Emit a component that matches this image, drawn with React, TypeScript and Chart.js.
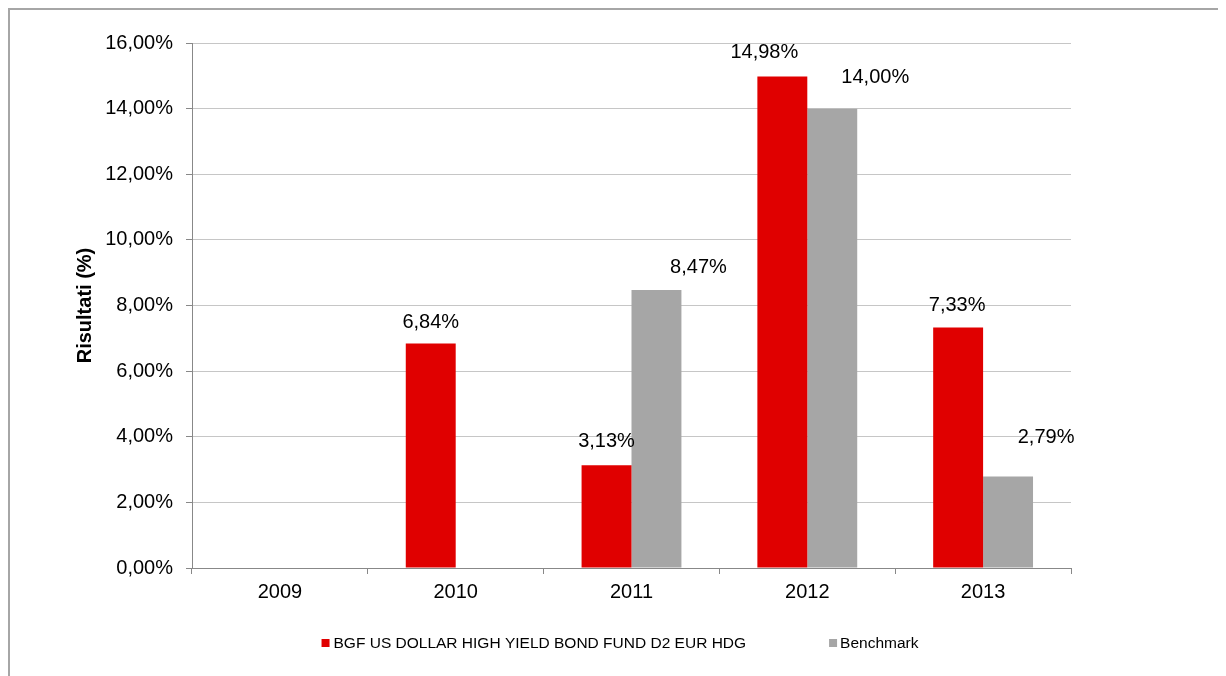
import React, { useEffect, useRef } from "react";
import { Chart, registerables } from "chart.js";

Chart.register(...registerables);

const categories = ["2009", "2010", "2011", "2012", "2013"];
const fundLabel = "BGF US DOLLAR HIGH YIELD BOND FUND D2 EUR HDG";
const benchLabel = "Benchmark";
const fundValues: (number | null)[] = [null, 6.84, 3.13, 14.98, 7.33];
const benchValues: (number | null)[] = [null, null, 8.47, 14.0, 2.79];
const yTicks = [0, 2, 4, 6, 8, 10, 12, 14, 16];

const FONT = "'Liberation Sans', Arial, sans-serif";
const fmt = (v: number) => v.toFixed(2).replace(".", ",") + "%";

// label offsets (dx, dy) per dataset, per category
const labelOffsets = [
  [[0, 0], [0, 21], [0, 24], [-18, 24], [-1, 22]],
  [[0, 0], [0, 0], [42, 23], [43, 31], [38, 39]],
];

const dataLabelPlugin = {
  id: "dataLabels",
  afterDatasetsDraw(chart: any) {
    const ctx = chart.ctx;
    ctx.save();
    ctx.font = `20px ${FONT}`;
    ctx.fillStyle = "#000";
    ctx.textAlign = "center";
    ctx.textBaseline = "middle";
    chart.data.datasets.forEach((ds: any, di: number) => {
      const meta = chart.getDatasetMeta(di);
      meta.data.forEach((el: any, i: number) => {
        const v = ds.data[i];
        if (v == null) return;
        const [dx, dy] = labelOffsets[di][i];
        ctx.fillText(fmt(v), el.x + dx, el.y - dy);
      });
    });
    ctx.restore();
  },
};

const legendPlugin = {
  id: "customLegend",
  afterDraw(chart: any) {
    const ctx = chart.ctx;
    ctx.save();
    ctx.font = `15.5px ${FONT}`;
    ctx.textBaseline = "middle";
    ctx.textAlign = "left";
    const ds = chart.data.datasets;
    const box = 8;
    const gapText = [4, 3];
    const gapItems = 83;
    const widths = ds.map((d: any) => ctx.measureText(d.label).width);
    const total = box + gapText[0] + widths[0] + gapItems + box + gapText[1] + widths[1];
    let x = chart.width / 2 + 2 - total / 2;
    const y = 633;
    ds.forEach((d: any, i: number) => {
      ctx.fillStyle = d.backgroundColor;
      ctx.fillRect(x, y - box / 2, box, box);
      x += box + gapText[i];
      ctx.fillStyle = "#000";
      ctx.fillText(d.label, x, y + 1);
      x += widths[i] + gapItems;
    });
    ctx.restore();
  },
};

export default function App() {
  const ref = useRef<HTMLCanvasElement>(null);
  useEffect(() => {
    if (!ref.current) return;
    const chart = new Chart(ref.current, {
      type: "bar",
      data: {
        labels: categories,
        datasets: [
          { label: fundLabel, data: fundValues, backgroundColor: "#e00000", categoryPercentage: 0.568, barPercentage: 1 },
          { label: benchLabel, data: benchValues, backgroundColor: "#a6a6a6", categoryPercentage: 0.568, barPercentage: 1 },
        ],
      },
      options: {
        animation: false,
        responsive: false,
        layout: { padding: { left: 59, right: 155, top: 33, bottom: 68 } },
        plugins: { legend: { display: false }, tooltip: { enabled: false } },
        scales: {
          x: {
            grid: { display: true, offset: true, drawOnChartArea: false, tickLength: 6, tickColor: "#888", color: "#888" },
            border: { color: "#888", width: 1 },
            ticks: { color: "#000", font: { family: FONT, size: 20 }, padding: 6 },
            afterFit: (s: any) => { s.height = 40; },
          },
          y: {
            min: 0,
            max: 16,
            afterBuildTicks: (s: any) => { s.ticks = yTicks.map((v) => ({ value: v })); },
            grid: { color: "#c6c6c6", tickLength: 6, tickColor: "#888", lineWidth: 1 },
            border: { color: "#888", width: 1 },
            ticks: { color: "#000", font: { family: FONT, size: 20 }, padding: 13, callback: (v: any) => fmt(Number(v)) },
            title: { display: true, text: "Risultati (%)", color: "#000", font: { family: FONT, size: 20, weight: "bold" } },
            afterFit: (s: any) => { s.width = 123; },
          },
        },
      },
      plugins: [dataLabelPlugin, legendPlugin],
    });
    return () => chart.destroy();
  }, []);
  return (
    <div style={{ position: "relative", width: 1218, height: 668, borderTop: "2px solid #a6a6a6", borderLeft: "2px solid #a6a6a6", boxSizing: "border-box" }}>
      <canvas ref={ref} width={1216} height={666} style={{ display: "block" }} />
    </div>
  );
}
